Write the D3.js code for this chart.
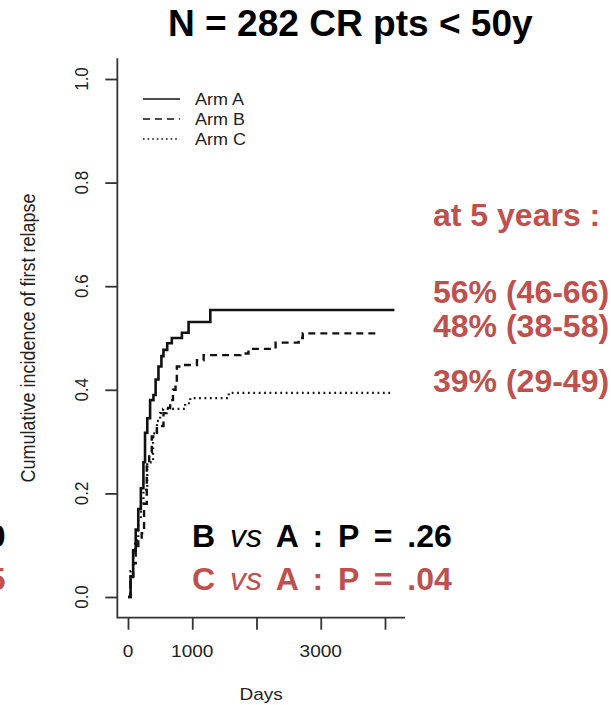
<!DOCTYPE html>
<html>
<head>
<meta charset="utf-8">
<script src="https://cdn.jsdelivr.net/npm/d3@7"></script>
<style>
  body { margin: 0; background: #fff; }
  svg { display: block; font-family: "Liberation Sans", Arial, sans-serif; }
</style>
</head>
<body>
<div class="d3chart"></div>
<script>
// cumulative incidence of first relapse
var armADays = [0, 40, 80, 120, 160, 200, 240, 265, 300, 344, 396, 430, 474, 520, 552, 610, 682, 839, 943, 1281, 4146];
var armAVals = [0, .04, .09, .13, .17, .21, .26, .317, .345, .38, .39, .42, .445, .465, .477, .49, .50, .51, .531, .554, .554];

var armBDays = [0, 40, 80, 120, 160, 213, 250, 292, 330, 370, 450, 552, 600, 656, 700, 740, 760, 860, 1073, 1177, 1750, 1875, 2297, 2656, 2720, 3911];
var armBVals = [0, .03, .065, .09, .11, .123, .18, .252, .28, .31, .33, .355, .365, .38, .40, .413, .445, .448, .457, .467, .470, .479, .491, .50, .509, .509];

var armCDays = [0, 40, 80, 109, 160, 200, 240, 300, 390, 450, 500, 547, 890, 969, 1568, 4094];
var armCVals = [0, .05, .085, .11, .15, .18, .207, .26, .316, .34, .355, .363, .374, .384, .394, .394];

var armNames = ["Arm A", "Arm B", "Arm C"];
var xTicks = [0, 1000, 2000, 3000, 4000];
var xLabels = [0, 1000, 3000];
var yTicks = [0, 0.2, 0.4, 0.6, 0.8, 1.0];
var atFive = ["56% (46-66)", "48% (38-58)", "39% (29-49)"];

var width = 611, height = 705;
var red = "#C0504D", ink = "#222";
var sx = 1.12; // the R panel is a bit stretched sideways

var svg = d3.select(".d3chart").append("svg")
    .attr("width", width)
    .attr("height", height);

var x = d3.scaleLinear().domain([0, 4000]).range([128, 385]);
var y = d3.scaleLinear().domain([0, 1]).range([597, 79]);

var boxLeft = x(-166), boxRight = x(4312), boxTop = y(1.04), boxBottom = y(-0.04);

/************* L shaped box ***************/
svg.append("path")
    .attr("d", "M" + boxLeft + "," + boxTop + "V" + boxBottom + "H" + boxRight)
    .attr("fill", "none")
    .attr("stroke", "#333")
    .attr("stroke-width", 1.8);

/************* axes ***************/
var yAxis = svg.append("g")
    .attr("transform", "translate(" + boxLeft + ",0)")
    .call(d3.axisLeft(y).tickValues(yTicks).tickSize(12).tickFormat(""));
var xAxis = svg.append("g")
    .attr("transform", "translate(0," + boxBottom + ")")
    .call(d3.axisBottom(x).tickValues(xTicks).tickSize(12).tickFormat(""));
[yAxis, xAxis].forEach(function(g){
    g.select(".domain").remove();
    g.selectAll(".tick line").attr("stroke", "#333").attr("stroke-width", 1.8);
});

svg.selectAll(".ylab")
    .data(yTicks)
    .enter().append("text")
    .attr("class", "ylab")
    .attr("transform", d => "translate(88," + y(d) + ") scale(" + sx + ",1) rotate(-90)")
    .attr("text-anchor", "middle")
    .attr("font-size", 17)
    .attr("fill", ink)
    .text(d => d.toFixed(1));

svg.selectAll(".xlab")
    .data(xLabels)
    .enter().append("text")
    .attr("class", "xlab")
    .attr("transform", d => "translate(" + x(d) + ",657) scale(" + sx + ",1)")
    .attr("text-anchor", "middle")
    .attr("font-size", 17)
    .attr("fill", ink)
    .text(d => d);

svg.append("text")
    .attr("transform", "translate(" + (boxLeft + boxRight) / 2 + ",700) scale(" + sx + ",1)")
    .attr("text-anchor", "middle")
    .attr("font-size", 17)
    .attr("fill", ink)
    .text("Days");

svg.append("text")
    .attr("transform", "translate(35,338) scale(" + sx + ",1) rotate(-90)")
    .attr("text-anchor", "middle")
    .attr("font-size", 18)
    .attr("fill", ink)
    .text("Cumulative incidence of first relapse");

/************* curves ***************/
var line = d3.line()
    .x(d => x(d[0]))
    .y(d => y(d[1]))
    .curve(d3.curveStepAfter);

var arms = [
    {days: armADays, vals: armAVals, dash: null, w: 2.6},
    {days: armBDays, vals: armBVals, dash: "7,5", w: 2.4},
    {days: armCDays, vals: armCVals, dash: "1.8,3.6", w: 2.2}
];

svg.append("g")
    .selectAll("path")
    .data(arms)
    .enter().append("path")
    .attr("d", a => line(d3.zip(a.days, a.vals)))
    .attr("fill", "none")
    .attr("stroke", "#111")
    .attr("stroke-width", a => a.w)
    .attr("stroke-dasharray", a => a.dash);

/************* legend ***************/
var legend = svg.append("g");
legend.selectAll("line")
    .data(arms)
    .enter().append("line")
    .attr("x1", 143).attr("x2", 180)
    .attr("y1", (d, i) => 99 + i * 20)
    .attr("y2", (d, i) => 99 + i * 20)
    .attr("stroke", "#111")
    .attr("stroke-width", 1.6)
    .attr("stroke-dasharray", (d, i) => i == 0 ? null : (i == 1 ? "7,5" : "1.6,3"));
legend.selectAll("text")
    .data(armNames)
    .enter().append("text")
    .attr("transform", (d, i) => "translate(195," + (105 + i * 20) + ") scale(1.06,1)")
    .attr("font-size", 17)
    .attr("fill", ink)
    .text(d => d);

/************* slide text ***************/
svg.append("text")
    .attr("transform", "translate(168,36) scale(1.03,1)")
    .attr("font-size", 36)
    .attr("font-weight", "bold")
    .attr("fill", "#000")
    .text("N = 282 CR pts < 50y");

svg.append("text")
    .attr("x", 433).attr("y", 226)
    .attr("font-size", 32)
    .attr("font-weight", "bold")
    .attr("fill", red)
    .text("at 5 years :");

svg.selectAll(".five")
    .data(atFive)
    .enter().append("text")
    .attr("class", "five")
    .attr("x", 433)
    .attr("y", (d, i) => [303, 337, 392][i])
    .attr("font-size", 32)
    .attr("font-weight", "bold")
    .attr("fill", red)
    .text(d => d);

var pLines = [
    {a: "B", b: "A : P = .26", y: 547, c: "#000", cut: "0"},
    {a: "C", b: "A : P = .04", y: 590, c: red, cut: "5"}
];
pLines.forEach(function(p){
    var t = svg.append("text")
        .attr("x", 192).attr("y", p.y)
        .attr("font-size", 32)
        .attr("font-weight", "bold")
        .attr("fill", p.c)
        .attr("word-spacing", 6);
    t.append("tspan").text(p.a + " ");
    t.append("tspan").attr("font-style", "italic").attr("font-weight", "normal").text("vs");
    t.append("tspan").text(" " + p.b);
    // text cut off by the left edge of the slide
    svg.append("text")
        .attr("x", 5.5).attr("y", p.y)
        .attr("text-anchor", "end")
        .attr("font-size", 32)
        .attr("font-weight", "bold")
        .attr("fill", p.c)
        .text(p.cut);
});
</script>
</body>
</html>
